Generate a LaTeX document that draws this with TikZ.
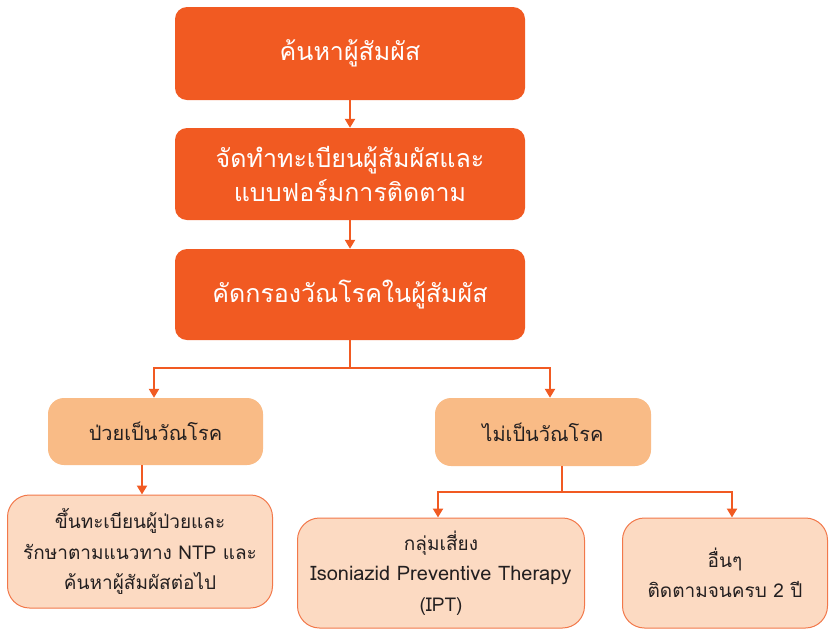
\documentclass[tikz,border=0pt]{standalone}
\usepackage{fontspec}
\newfontfamily\thaifont[Script=Thai]{Loma}
\usetikzlibrary{arrows.meta,calc}
\definecolor{deeporange}{HTML}{F15A22}
\definecolor{midorange}{HTML}{F9BB86}
\definecolor{paleorange}{HTML}{FCDAC2}
\definecolor{edgeorange}{HTML}{F2784A}
\definecolor{darktext}{HTML}{231F20}
\tikzset{
    stepbig/.style={rectangle,rounded corners=12pt,fill=deeporange,text=white,align=center,
        minimum width=350pt,font=\thaifont\fontsize{25}{34}\selectfont},
    result/.style={rectangle,rounded corners=16pt,fill=midorange,text=darktext,align=center,
        font=\thaifont\fontsize{20}{30}\selectfont},
    action/.style={rectangle,rounded corners=22pt,fill=paleorange,draw=edgeorange,line width=1pt,
        text=darktext,align=center,font=\thaifont\fontsize{19}{30.5}\selectfont},
    link/.style={draw=deeporange,line width=2.5pt}
}
\begin{document}
\begin{tikzpicture}[x=1pt,y=-1pt]
        \useasboundingbox (0,0) rectangle (830,630);
        \node[stepbig,minimum height=93pt] (search) at (350,53.5) {ค้นหาผู้สัมผัส};
        \node[stepbig,minimum height=92pt] (register) at (350,174) {จัดทำทะเบียนผู้สัมผัสและ\\แบบฟอร์มการติดตาม};
        \node[stepbig,minimum height=91pt] (screen) at (350,294.5) {คัดกรองวัณโรคในผู้สัมผัส};
        \node[result,minimum width=215pt,minimum height=67pt] (sick) at (155.5,431.5) {ป่วยเป็นวัณโรค};
        \node[result,minimum width=216pt,minimum height=68pt] (notsick) at (543,432) {ไม่เป็นวัณโรค};
        \node[action,minimum width=265pt,minimum height=113pt] (treat) at (140,551.5) {ขึ้นทะเบียนผู้ป่วยและ\\รักษาตามแนวทาง NTP และ\\ค้นหาผู้สัมผัสต่อไป};
        \node[action,minimum width=287pt,minimum height=110pt] (ipt) at (441,573) {กลุ่มเสี่ยง\\{\fontsize{20}{30.5}\selectfont Isoniazid Preventive Therapy}\\(IPT)};
        \node[action,minimum width=205pt,minimum height=110pt] (other) at (725,573) {อื่นๆ\\ติดตามจนครบ 2 ปี};
        \coordinate (split) at ($(screen.south)+(0,28)$);
        \coordinate (fork) at ($(notsick.south)+(19,26)$);
        \begin{scope}[link,->,>={Triangle[width=10pt,length=9pt]}]
            \draw (search) -- (register);
            \draw (register) -- (screen);
            \draw (screen.south) -- (split) -| (sick.north -| 154,0);
            \draw (split) -| (notsick.north -| 550,0);
            \draw (sick.south -| 142,0) -- (treat.north -| 142,0);
            \draw (notsick.south -| fork) -- (fork) -| (ipt.north -| 438,0);
            \draw (fork) -| (other.north -| 732,0);
        \end{scope}
    \end{tikzpicture}
\end{document}
